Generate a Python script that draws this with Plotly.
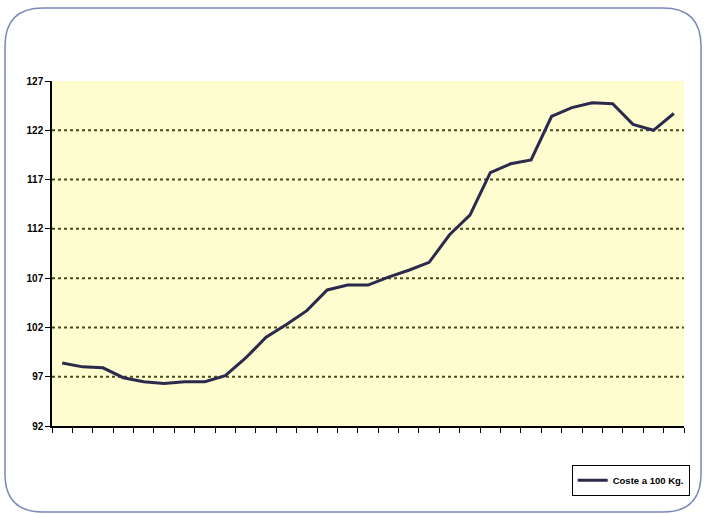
import plotly.graph_objects as go

# Data
periods = list(range(1, 32))
coste_100kg = [98.4, 98.0, 97.9, 96.9, 96.5, 96.3, 96.5, 96.5, 97.1, 98.9,
               101.0, 102.3, 103.7, 105.8, 106.3, 106.3, 107.1, 107.8, 108.6, 111.4,
               113.4, 117.7, 118.6, 119.0, 123.4, 124.3, 124.8, 124.7, 122.6, 122.0,
               123.7]
y_ticks = [92, 97, 102, 107, 112, 117, 122, 127]
series_name = "Coste a 100 Kg."

W, H = 706, 514
ML, MR, MT, MB = 52, 22, 81, 88
PW, PH = W - ML - MR, H - MT - MB


def px(x):
    return (x - ML) / PW


def py(y):
    return (H - MB - y) / PH


fig = go.Figure()
fig.add_trace(go.Scatter(
    x=periods, y=coste_100kg, mode="lines", name=series_name,
    line=dict(color="#2c2a4c", width=3),
))

# dotted grid lines (not at the axis ends)
for v in y_ticks:
    if y_ticks[0] < v < y_ticks[-1]:
        fig.add_shape(type="line", xref="paper", yref="y", x0=0, x1=1, y0=v, y1=v,
                      line=dict(color="#4a4a1c", width=2, dash="dot"), layer="below")

# rounded outer frame
x0, x1, y0, y1, r = 5, 701, 8, 512, 38
path = (f"M {px(x0 + r)},{py(y0)} L {px(x1 - r)},{py(y0)} "
        f"Q {px(x1)},{py(y0)} {px(x1)},{py(y0 + r)} "
        f"L {px(x1)},{py(y1 - r)} Q {px(x1)},{py(y1)} {px(x1 - r)},{py(y1)} "
        f"L {px(x0 + r)},{py(y1)} Q {px(x0)},{py(y1)} {px(x0)},{py(y1 - r)} "
        f"L {px(x0)},{py(y0 + r)} Q {px(x0)},{py(y0)} {px(x0 + r)},{py(y0)} Z")
fig.add_shape(type="path", xref="paper", yref="paper", path=path,
              line=dict(color="#7c88b8", width=1.5), layer="below")

fig.update_layout(
    width=W, height=H,
    margin=dict(l=ML, r=MR, t=MT, b=MB),
    paper_bgcolor="white",
    plot_bgcolor="#fefdd0",
    showlegend=True,
    legend=dict(
        x=1.009, xanchor="right", y=-0.112, yanchor="top",
        bgcolor="white", bordercolor="black", borderwidth=1,
        font=dict(family="Arial, Liberation Sans, sans-serif", size=9.5,
                  color="black", weight="bold"),
        itemwidth=30, tracegroupgap=0,
    ),
    font=dict(family="Arial, Liberation Sans, sans-serif", color="black"),
)

fig.update_xaxes(
    range=[0.5, len(periods) + 0.5],
    tickvals=[i + 0.5 for i in range(0, len(periods) + 1)],
    showticklabels=False, ticks="outside", ticklen=5, tickcolor="black",
    showline=True, linecolor="black", linewidth=1.5,
    showgrid=False, zeroline=False, fixedrange=True,
)
fig.update_yaxes(
    range=[y_ticks[0], y_ticks[-1]],
    tickvals=y_ticks, ticktext=[f"<b>{v}</b>" for v in y_ticks],
    tickfont=dict(size=10, family="Arial, Liberation Sans, sans-serif", color="black"),
    ticks="outside", ticklen=5, tickcolor="black",
    showline=True, linecolor="black", linewidth=1.5,
    showgrid=False, zeroline=False, fixedrange=True,
)

fig.write_html("out.html", config={"displayModeBar": False},
               post_script="document.body.style.margin='0';")
